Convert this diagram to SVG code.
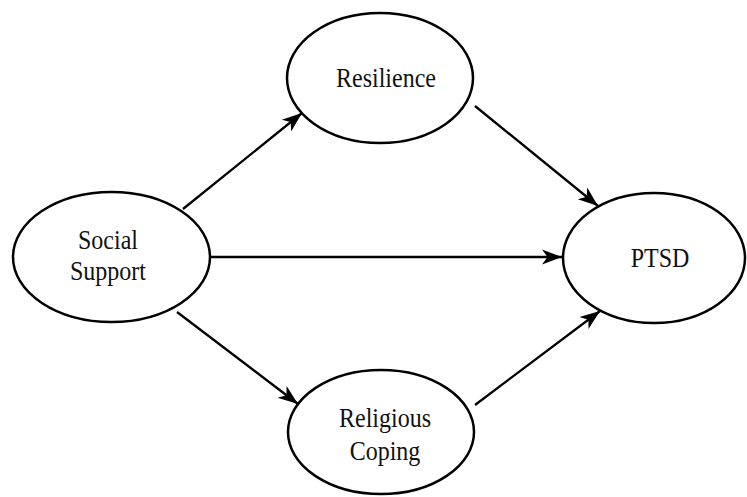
<svg xmlns="http://www.w3.org/2000/svg" width="747" height="497" viewBox="0 0 747 497">
<style>
.node ellipse{fill:#fff;stroke:#000;stroke-width:2.5}
.node text{font-family:"Liberation Serif","Times New Roman",serif;font-size:24px;fill:#111;text-anchor:middle}
.edges line{stroke:#000;stroke-width:2.3;marker-end:url(#ah)}
</style>
<defs>
<marker id="ah" markerUnits="userSpaceOnUse" markerWidth="22" markerHeight="18" viewBox="0 0 22 18" refX="20" refY="9" orient="auto">
<path d="M0,1.5 L20,9 L0,16.5 L5.5,9 Z" fill="#000"/>
</marker>
</defs>
<rect width="747" height="497" fill="#fff"/>
<g class="edges">
<line x1="183" y1="209" x2="302" y2="113"/>
<line x1="475" y1="106" x2="598" y2="206"/>
<line x1="210" y1="257" x2="562" y2="257"/>
<line x1="177" y1="312" x2="298" y2="404"/>
<line x1="475" y1="405" x2="600" y2="311"/>
</g>
<g id="social" class="node">
<ellipse cx="111.5" cy="257" rx="98.5" ry="65"/>
<text transform="translate(108,249) scale(1,1.13)">Social</text>
<text transform="translate(108,280) scale(1,1.13)">Support</text>
</g>
<g id="resilience" class="node">
<ellipse cx="380" cy="78" rx="93" ry="65"/>
<text transform="translate(386,87) scale(1,1.13)">Resilience</text>
</g>
<g id="religious" class="node">
<ellipse cx="381" cy="432" rx="93" ry="62"/>
<text transform="translate(385,427) scale(1,1.13)">Religious</text>
<text transform="translate(385,460) scale(1,1.13)">Coping</text>
</g>
<g id="ptsd" class="node">
<ellipse cx="654" cy="258" rx="91" ry="65"/>
<text transform="translate(660,267) scale(1,1.13)">PTSD</text>
</g>
</svg>
